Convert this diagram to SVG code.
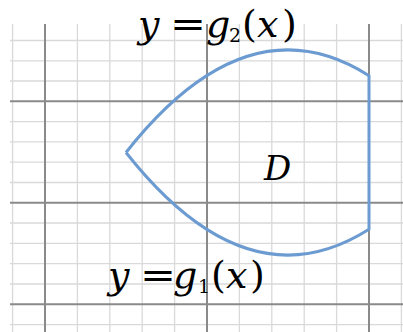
<svg xmlns="http://www.w3.org/2000/svg" width="403" height="332" viewBox="0 0 403 332">
<style>
.minor{stroke:#d9d9d9;stroke-width:1.3;fill:none}
.major{stroke:#8a8a8a;stroke-width:2;fill:none}
.curve{stroke:#6b9bd1;stroke-width:3;fill:none;stroke-linejoin:miter}
.m{font-family:"DejaVu Serif","Liberation Serif",serif;font-size:38px;fill:#000}
.i{font-style:italic}
.sub{font-size:19px}
</style>
<rect width="403" height="332" fill="#fff"/>
<g id="grid-minor" class="minor">
<path d="M10,40.5H403M10,60.8H403M10,81H403M10,121.6H403M10,141.9H403M10,162.2H403M10,182.5H403M10,223H403M10,243.4H403M10,263.7H403M10,284H403M10,324.6H403"/>
<path d="M12.6,24V332M77.4,24V332M109.8,24V332M142.2,24V332M174.6,24V332M239.4,24V332M271.8,24V332M304.2,24V332M336.6,24V332M401.4,24V332"/>
</g>
<g id="grid-major" class="major">
<path d="M10,101.3H403M10,202.8H403M10,304.3H403"/>
<path d="M45,24V332M207,24V332M369,24V332"/>
</g>
<g id="region">
<path class="curve" d="M126,152.5 Q247.5,-1.5 369,75.7 L369,229.3 Q247.5,306.5 126,152.5"/>
</g>
<g id="label-g2" class="m">
<text x="138" y="37" class="i">y</text>
<text x="170" y="37" textLength="36" lengthAdjust="spacingAndGlyphs">=</text>
<text x="206" y="37" class="i">g</text>
<text x="229" y="42" class="sub">2</text>
<text x="242" y="37">(</text>
<text x="257" y="37" class="i">x</text>
<text x="282" y="37">)</text>
</g>
<g id="label-g1" class="m">
<text x="108" y="288" class="i">y</text>
<text x="140" y="288" textLength="36" lengthAdjust="spacingAndGlyphs">=</text>
<text x="173" y="288" class="i">g</text>
<text x="198" y="293" class="sub">1</text>
<text x="211" y="288">(</text>
<text x="226" y="288" class="i">x</text>
<text x="250" y="288">)</text>
</g>
<g id="label-D">
<text x="264" y="180" class="m i" style="font-size:34px">D</text>
</g>
</svg>
